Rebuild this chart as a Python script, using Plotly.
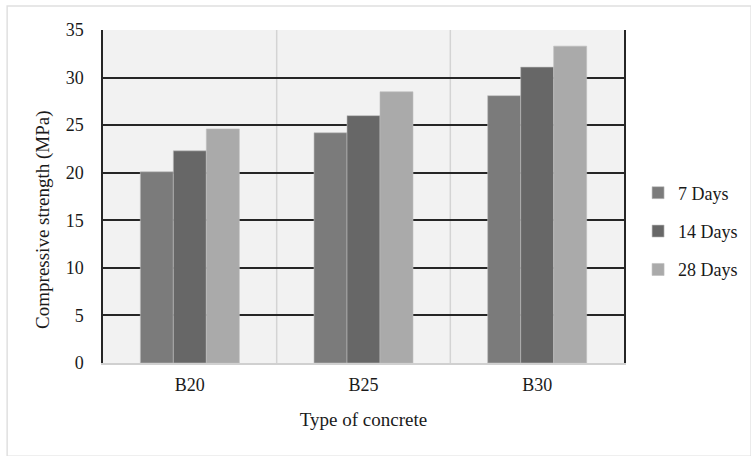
import plotly.graph_objects as go

categories = ["B20", "B25", "B30"]
series_names = ["7 Days", "14 Days", "28 Days"]
days7 = [20.1, 24.2, 28.1]
days14 = [22.3, 26.0, 31.1]
days28 = [24.6, 28.5, 33.3]
colors = ["#7b7b7b", "#676767", "#aaaaaa"]
y_ticks = [0, 5, 10, 15, 20, 25, 30, 35]

FONT = "Liberation Serif"

fig = go.Figure()
for i, (name, vals) in enumerate(zip(series_names, [days7, days14, days28])):
    fig.add_trace(go.Bar(
        x=categories, y=vals, name=name, legendgroup=name,
        marker=dict(color=colors[i], line=dict(width=0.6, color="#bdbdbd")),
    ))

fig.update_layout(
    width=751, height=456,
    margin=dict(l=103, r=127, t=30, b=93, autoexpand=False),
    paper_bgcolor="white",
    plot_bgcolor="#f2f2f2",
    barmode="group", bargap=0.43, bargroupgap=0,
    font=dict(family=FONT, size=18, color="#1a1a1a"),
    showlegend=True,
    legend=dict(x=1.027, y=0.395, xanchor="left", yanchor="middle",
                tracegroupgap=12, font=dict(family=FONT, size=18),
                bgcolor="rgba(0,0,0,0)"),
    xaxis=dict(showline=True, linecolor="#d0d0d0", linewidth=2,
               showgrid=False, ticks="", ticklabelstandoff=4,
               tickfont=dict(family=FONT, size=18),
               title=dict(text="Type of concrete", standoff=19,
                          font=dict(family=FONT, size=19))),
    yaxis=dict(range=[0, 35], tickvals=y_ticks, showline=True, mirror=True,
               linecolor="#262626", linewidth=1.5,
               showgrid=True, gridcolor="#262626", gridwidth=1.5,
               zeroline=False, ticks="", ticklabelstandoff=14,
               tickfont=dict(family=FONT, size=18)),
    annotations=[
        dict(text="Compressive strength (MPa)", xref="paper", yref="paper",
             x=-0.115, y=0.43, xanchor="center", yanchor="middle",
             textangle=-90, showarrow=False, font=dict(family=FONT, size=19)),
    ],
    shapes=[
        dict(type="line", xref="x", yref="paper", x0=0.5, x1=0.5, y0=0, y1=1,
             line=dict(color="#d4d4d4", width=1.5), layer="below"),
        dict(type="line", xref="x", yref="paper", x0=1.5, x1=1.5, y0=0, y1=1,
             line=dict(color="#d4d4d4", width=1.5), layer="below"),
        dict(type="rect", xref="paper", yref="paper", x0=-0.184, x1=1.244,
             y0=-0.28, y1=1.072, line=dict(color="#e0e0e0", width=1.5),
             fillcolor="rgba(0,0,0,0)", layer="below"),
    ],
)

fig.write_html("out.html")
